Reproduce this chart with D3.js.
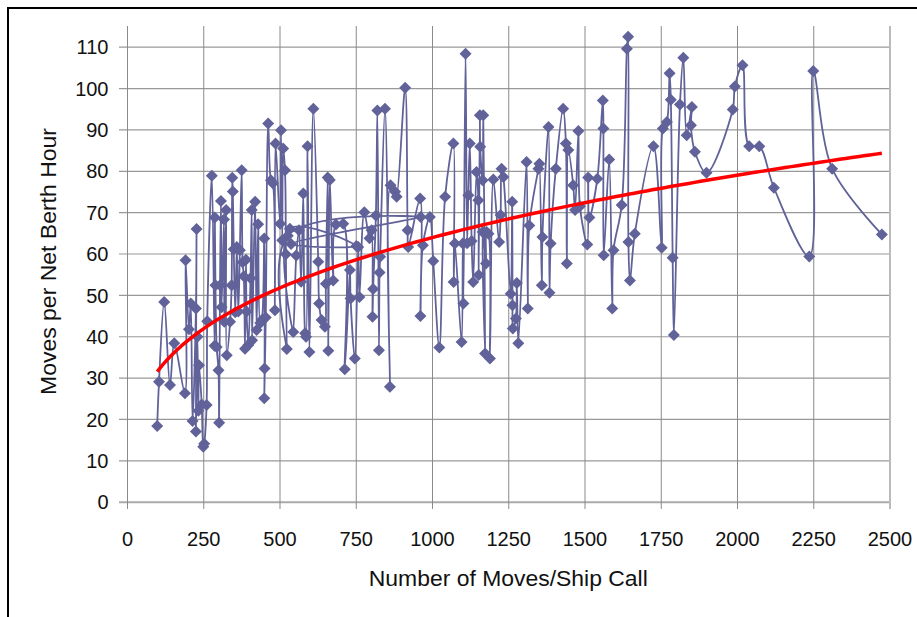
<!DOCTYPE html>
<html><head><meta charset="utf-8">
<script src="https://cdn.jsdelivr.net/npm/d3@7"></script>
<style>body{margin:0;background:#fff}svg{display:block}</style>
</head><body>
<svg id="c" width="917" height="617"></svg>
<script>
// Data (in the order the series connects them)
const movesPerCall = [99,105,122,141,155,190,192,203,209,215,226,228,226,231,234,236,245,250,253,261,263,278,287,288,290,294,300,302,305,308,310,318,319,325,327,338,343,345,347,350,355,360,365,370,376,379,383,387,390,392,398,405,409,410,420,425,430,437,442,450,451,450,455,463,472,478,485,487,502,505,509,512,518,521,524,527,963,538,752,534,545,555,564,571,578,584,587,592,598,611,627,630,638,649,652,658,660,665,676,685,709,714,731,733,747,758,762,778,795,802,805,807,816,821,826,828,830,846,862,864,879,884,912,920,922,961,962,970,993,1004,1024,1043,1070,1071,1075,1097,1101,1103,1110,1115,1119,1124,1130,1135,1146,1152,1153,1157,1158,1166,1168,1174,1166,1177,1179,1185,1190,1201,1220,1225,1228,1234,1258,1263,1264,1265,1275,1278,1283,1310,1314,1319,1349,1352,1360,1362,1382,1385,1389,1406,1430,1439,1442,1447,1463,1469,1480,1485,1509,1512,1516,1542,1560,1562,1563,1581,1591,1595,1622,1639,1643,1644,1649,1665,1726,1753,1757,1770,1779,1783,1789,1793,1813,1824,1835,1852,1849,1862,1900,1986,1993,2018,2040,2073,2121,2237,2250,2312,2475];
const movesPerBerthHour = [18.3,29,48.3,28.2,38.3,26.2,58.4,41.7,47.9,19.5,46.7,65.9,17,39.9,22,33,23.5,13.3,14,23.4,43.6,78.8,37.7,68.7,52.3,37.4,31.8,19.1,52.3,72.7,47,68.2,43.5,70.5,35.4,43.5,52.3,78.3,75,61,45.8,61.6,46,60.8,80.1,57.9,54.5,37,58.5,46,37.9,54,70.5,39,72.5,41.5,67.1,43.2,43.9,63.6,32.2,25,44.5,91.4,77.7,77,46.3,86.6,67.2,89.8,63.2,85.4,80.1,59.8,36.9,64.3,68.8,62.3,61.8,66,41,59.5,65.6,53.2,74.5,40.7,39.9,85.9,36.2,95,58,47.9,43.9,42.3,52.7,78.4,36.5,77.8,53.5,67,67.2,32,56,49.1,34.6,61.6,49.5,70,63.7,65.6,44.7,51.4,69.2,94.6,36.6,55.4,59.2,95,27.8,76.5,74.9,73.7,100.1,65.6,61.6,73.3,44.9,62,68.8,58.2,37.3,73.7,86.6,53.1,62.4,38.6,62.4,47.9,108.3,62.5,74.1,86.6,63,53.1,79.7,72.9,54.8,93.4,85.8,77.7,93.4,35.8,65.2,57.6,65.2,64.8,34.6,77.9,62.8,69.3,80.5,78.5,50.3,72.5,47.5,41.9,44.3,52.9,38.3,82.1,46.7,66.8,80.5,81.7,52.3,64,90.6,50.5,62.4,80.5,95,86.6,57.6,85,76.5,70.5,89.6,71.4,62.2,78.4,68.7,78.1,97,90.2,59.6,82.7,46.7,60.8,71.7,109.5,112.4,62.8,53.5,64.8,85.9,61.4,90.2,91.8,103.6,97.2,59,40.3,96,107.3,88.6,95.4,91,84.6,79.5,94.8,100.4,105.5,85.9,85.9,75.9,59.3,104.1,80.5,64.6];
const xTickValues = [0,250,500,750,1000,1250,1500,1750,2000,2250,2500];
const yTickValues = [0,10,20,30,40,50,60,70,80,90,100,110];
const xTitle = "Number of Moves/Ship Call";
const yTitle = "Moves per Net Berth Hour";
// Power trendline y = a·x^b, coefficients
const trendA = 7.71, trendB = 0.306;

const points = movesPerCall.map((m,i)=>[m, movesPerBerthHour[i]]);

const svg = d3.select('#c');
const L = 127, R = 889.5, T = 26, B = 501.7;
const x = d3.scaleLinear().domain([0,2500]).range([L,R]);
const y = d3.scaleLinear().domain([0,115]).range([B,T]);
const font = "'Liberation Sans', Arial, sans-serif";
const seriesColor = "#616299";

// outer frame
svg.append('path').attr('d','M8,617V8H917').attr('fill','none').attr('stroke','#000').attr('stroke-width',2);

// y axis / horizontal gridlines
const gy = svg.append('g').attr('transform',`translate(${R},0)`)
  .call(d3.axisLeft(y).tickValues(yTickValues).tickSize(R-119).tickPadding(10.5).tickFormat(d3.format('d')));
gy.select('.domain').remove();
gy.selectAll('.tick line').attr('stroke',d=>d===0?'#aaaaaa':'#999999').attr('stroke-width',d=>d===0?2:1.2);
gy.selectAll('.tick text').attr('font-family',font).attr('font-size',20).attr('fill','#111').attr('dy','0.36em');

// x axis / vertical gridlines
const gx = svg.append('g').attr('transform',`translate(0,${T})`)
  .call(d3.axisBottom(x).tickValues(xTickValues).tickSize(509-T).tickPadding(23).tickFormat(d3.format('d')));
gx.select('.domain').remove();
gx.selectAll('.tick line').attr('stroke',d=>d===2500?'#bbbbbb':'#8a8a8a').attr('stroke-width',d=>d===2500?2:1);
gx.selectAll('.tick text').attr('font-family',font).attr('font-size',20).attr('fill','#111');

// axis titles
svg.append('text').attr('x',(L+R)/2).attr('y',586).attr('text-anchor','middle')
  .attr('font-family',font).attr('font-size',21.5).attr('fill','#111')
  .attr('textLength',279).attr('lengthAdjust','spacingAndGlyphs').text(xTitle);
svg.append('text').attr('transform','translate(56,261.5) rotate(-90)').attr('text-anchor','middle')
  .attr('font-family',font).attr('font-size',21.5).attr('fill','#111')
  .attr('textLength',267).attr('lengthAdjust','spacingAndGlyphs').text(yTitle);

// series line
const line = d3.line().x(d=>x(d[0])).y(d=>y(d[1])).curve(d3.curveCatmullRom.alpha(0.5));
svg.append('path').datum(points).attr('d',line).attr('fill','none')
  .attr('stroke',seriesColor).attr('stroke-width',1.8);

// markers (diamonds)
const diamond = d3.symbol(d3.symbolSquare, 72);
svg.append('g').selectAll('path').data(points).join('path')
  .attr('d',diamond).attr('transform',d=>`translate(${x(d[0])},${y(d[1])}) rotate(45)`)
  .attr('fill',seriesColor);

// trendline across the data range
const [xmin,xmax] = d3.extent(movesPerCall);
const trend = d3.range(0,121).map(i=>{const v = xmin+(xmax-xmin)*i/120; return [v, trendA*Math.pow(v,trendB)];});
svg.append('path').datum(trend).attr('d',d3.line().x(d=>x(d[0])).y(d=>y(d[1])))
  .attr('fill','none').attr('stroke','#ff0000').attr('stroke-width',3.5).attr('stroke-linejoin','round');
</script>
</body></html>
